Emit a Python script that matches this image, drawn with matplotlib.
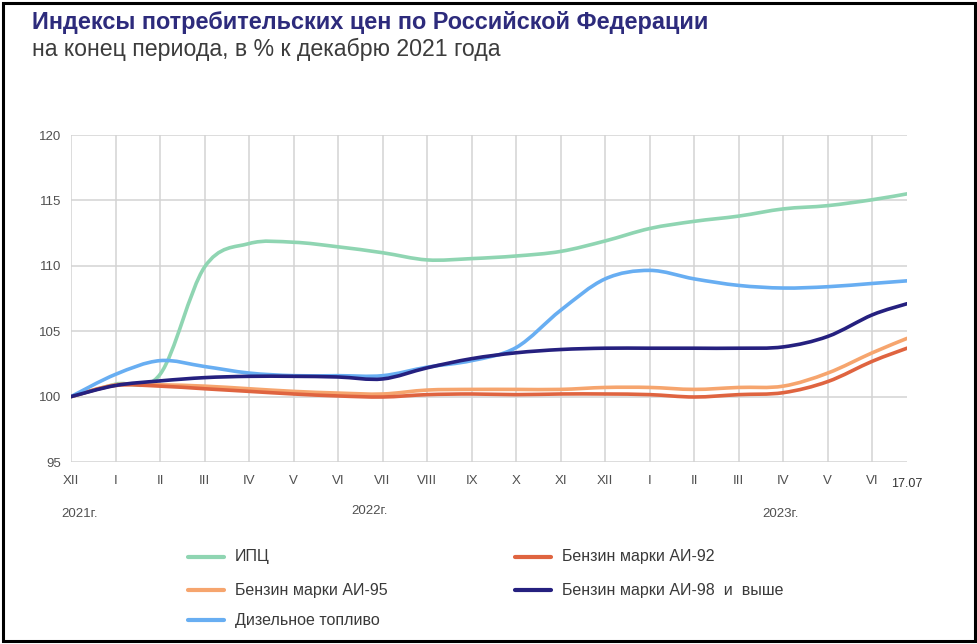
import numpy as np
import matplotlib
matplotlib.use("Agg")
import matplotlib.pyplot as plt
from matplotlib.path import Path
from matplotlib.patches import PathPatch, Rectangle
from matplotlib.lines import Line2D

# ---------------- data ----------------
month_labels = ["XII", "I", "II", "III", "IV", "V", "VI", "VII", "VIII", "IX", "X",
                "XI", "XII", "I", "II", "III", "IV", "V", "VI", "17.07"]
x_pos = [0, 1, 2, 3, 4, 5, 6, 7, 8, 9, 10, 11, 12, 13, 14, 15, 16, 17, 18, 18.78]
year_labels = ["2021г.", "2022г.", "2023г."]

cpi = [100, 100.95, 101.7, 109.9, 111.7, 111.8, 111.45, 111.0, 110.45, 110.55, 110.75,
       111.1, 111.9, 112.85, 113.4, 113.8, 114.35, 114.6, 115.05, 115.5]
ai92 = [100, 100.85, 100.8, 100.6, 100.4, 100.2, 100.05, 99.97, 100.15, 100.2, 100.15,
        100.2, 100.2, 100.15, 99.97, 100.15, 100.3, 101.15, 102.7, 103.7]
ai95 = [100, 100.9, 100.9, 100.8, 100.6, 100.4, 100.27, 100.2, 100.5, 100.55, 100.55,
        100.55, 100.7, 100.7, 100.55, 100.7, 100.8, 101.8, 103.35, 104.45]
ai98 = [100, 100.85, 101.2, 101.45, 101.55, 101.55, 101.5, 101.35, 102.2, 102.9, 103.35,
        103.6, 103.7, 103.7, 103.7, 103.7, 103.8, 104.6, 106.25, 107.1]
diesel = [100, 101.7, 102.75, 102.3, 101.8, 101.6, 101.6, 101.6, 102.25, 102.75, 103.75,
          106.6, 109.0, 109.65, 109.0, 108.5, 108.3, 108.4, 108.65, 108.85]

series_names = ["ИПЦ", "Бензин марки АИ-92", "Бензин марки АИ-95",
                "Бензин марки АИ-98  и  выше", "Дизельное топливо"]

title = "Индексы потребительских цен по Российской Федерации"
subtitle = "на конец периода, в % к декабрю 2021 года"

# ---------------- style ----------------
C_CPI = "#8fd5b2"
C_92 = "#df6440"
C_95 = "#f6a56e"
C_98 = "#25207f"
C_DSL = "#68aef2"
GRID = "#d3d3d3"

NARROW = ["Liberation Sans Narrow", "Liberation Sans", "DejaVu Sans"]
plt.rcParams["font.family"] = ["Liberation Sans", "DejaVu Sans"]

W, H = 978, 644
fig = plt.figure(figsize=(W / 100, H / 100), dpi=100)
fig.patch.set_facecolor("white")

def fx(px):
    return px / W

def fy(py):
    return 1 - py / H

# outer black frame
fig.add_artist(Rectangle((fx(3), fy(641)), fx(972), 638 / H, transform=fig.transFigure,
                         fill=False, ec="black", lw=2.2))

ax = fig.add_axes([fx(71), fy(462), fx(907 - 71), (462 - 135) / H])
ax.set_xlim(0, x_pos[-1])
ax.set_ylim(95, 120)
for s in ax.spines.values():
    s.set_visible(False)
ax.set_yticks([95, 100, 105, 110, 115, 120])
ax.yaxis.grid(True, color=GRID, lw=1.1)
for xv in x_pos[:-1]:
    ax.axvline(xv, color=GRID, lw=1.1, zorder=0.5)
ax.set_axisbelow(True)
ax.tick_params(axis="both", length=0)
ax.tick_params(axis="y", pad=7, labelsize=9.5, labelcolor="#505050")
ax.set_xticks(x_pos)
ax.set_xticklabels(month_labels, fontfamily=NARROW, fontsize=9.5, color="#505050")
ax.tick_params(axis="x", pad=9)
last = ax.get_xticklabels()[-1]
last.set_color("#333333")
last.set_fontfamily(["Liberation Sans", "DejaVu Sans"])
last.set_fontsize(9)
last.set_y(-0.012)


def smooth(x, y):
    pts = np.column_stack([x, y]).astype(float)
    n = len(pts)
    verts = [tuple(pts[0])]
    codes = [Path.MOVETO]
    for i in range(n - 1):
        p0 = pts[max(i - 1, 0)]
        p1 = pts[i]
        p2 = pts[i + 1]
        p3 = pts[min(i + 2, n - 1)]
        c1 = p1 + (p2 - p0) / 6.0
        c2 = p2 - (p3 - p1) / 6.0
        verts += [tuple(c1), tuple(c2), tuple(p2)]
        codes += [Path.CURVE4] * 3
    return Path(verts, codes)


series = [(cpi, C_CPI, 3), (ai95, C_95, 4), (ai92, C_92, 4), (diesel, C_DSL, 5), (ai98, C_98, 6)]
for vals, col, z in series:
    patch = PathPatch(smooth(x_pos, vals), fill=False, ec=col, lw=2.6,
                      capstyle="round", joinstyle="round", zorder=z)
    ax.add_patch(patch)

# year labels
fig.text(fx(80), fy(514), year_labels[0], fontfamily=NARROW, fontsize=9.5, color="#505050",
         ha="center", va="center")
fig.text(fx(370), fy(511), year_labels[1], fontfamily=NARROW, fontsize=9.5, color="#505050",
         ha="center", va="center")
fig.text(fx(781), fy(514), year_labels[2], fontfamily=NARROW, fontsize=9.5, color="#505050",
         ha="center", va="center")

# title
fig.text(fx(32), fy(22), title, fontsize=16.9, fontweight="bold", color="#2d2b7c",
         ha="left", va="center")
fig.text(fx(32), fy(49), subtitle, fontsize=16.7, color="#3c3c3c", ha="left", va="center")

# legend (manual)
legend_items = [
    (series_names[0], C_CPI, 188, 557),
    (series_names[2], C_95, 188, 590),
    (series_names[4], C_DSL, 188, 620),
    (series_names[1], C_92, 515, 557),
    (series_names[3], C_98, 515, 590),
]
for name, col, x0, y0 in legend_items:
    fig.add_artist(Line2D([fx(x0), fx(x0 + 36)], [fy(y0), fy(y0)], transform=fig.transFigure,
                          color=col, lw=3, solid_capstyle="round"))
    fig.text(fx(x0 + 47), fy(y0), name, fontfamily=NARROW, fontsize=11.5, color="#3a3a3a",
             ha="left", va="center")

fig.savefig("out.png", dpi=100, facecolor="white")
